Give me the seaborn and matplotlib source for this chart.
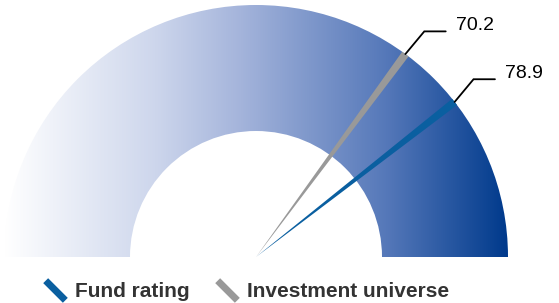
import numpy as np
import seaborn as sns
import matplotlib.pyplot as plt
from matplotlib.patches import Wedge
from matplotlib.colors import LinearSegmentedColormap
from matplotlib.lines import Line2D

# data
series = ['Fund rating', 'Investment universe']
values = [78.9, 70.2]
colors = ['#0a5fa0', '#999999']
labels = ['78.9', '70.2']

sns.set_theme(style='white')
plt.rcParams['font.family'] = ['Liberation Sans', 'DejaVu Sans']

fig = plt.figure(figsize=(5.59, 3.03), dpi=100)
ax = fig.add_axes([0, 0, 1, 1])
ax.set_xlim(-256 / 252, 303 / 252)
ax.set_ylim(-46 / 252, 257 / 252)
ax.set_aspect('equal')
ax.axis('off')

# gradient annulus
cmap = LinearSegmentedColormap.from_list(
    'gauge', [(0, '#ffffff'), (0.3, '#cdd6ec'), (0.47, '#a4b4db'),
              (0.76, '#5578b9'), (1, '#003a8c')])
grad = np.linspace(0, 1, 512).reshape(1, -1)
ring = Wedge((0, 0), 1, 0, 180, width=0.5, facecolor='none', edgecolor='none')
ax.add_patch(ring)
img = ax.imshow(grad, cmap=cmap, extent=[-1, 1, 0, 1], aspect='auto',
                interpolation='bicubic')
img.set_clip_path(ring)

# needles
half = 0.9
for v, c, lab in zip(values, colors, labels):
    ang = 180 - v * 1.8
    a1, a2 = np.radians(ang - half), np.radians(ang + half)
    ax.fill([0, np.cos(a1), np.cos(a2)], [0, np.sin(a1), np.sin(a2)],
            color=c, lw=0, zorder=3)
    tip = np.array([np.cos(np.radians(ang)), np.sin(np.radians(ang))])
    elbow = tip + np.array([0.075, 0.09])
    end = elbow + np.array([0.085, 0])
    ax.plot([tip[0], elbow[0], end[0]], [tip[1], elbow[1], end[1]],
            color='black', lw=1.3, zorder=4, solid_joinstyle='miter')
    ax.text(end[0] + 0.04, end[1] + 0.004, lab, fontsize=14,
            color='black', va='baseline', ha='left')

# legend
leg_handles = [Line2D([], [], color=c, lw=0, marker=(2, 0, 45),
                      markersize=20, markeredgewidth=5,
                      markeredgecolor=c) for c in colors]
leg = fig.legend(leg_handles, series, loc='lower center',
                 bbox_to_anchor=(0.44, -0.055), ncol=2, frameon=False,
                 prop={'weight': 'bold', 'size': 15},
                 handlelength=1.2, handletextpad=0.35, columnspacing=1.2)
for t in leg.get_texts():
    t.set_color('#333333')

fig.savefig('out.png', dpi=100)
